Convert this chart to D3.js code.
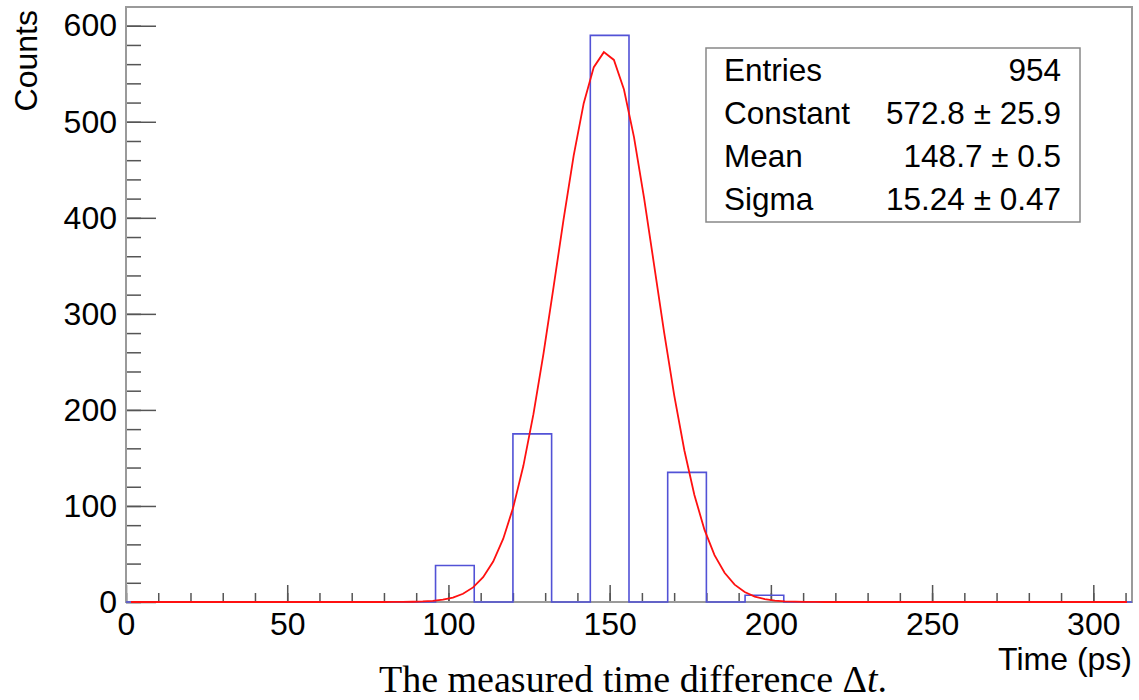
<!DOCTYPE html>
<html>
<head>
<meta charset="utf-8">
<script src="https://cdn.jsdelivr.net/npm/d3@7"></script>
<style>
    body { margin: 0; background: #fff; }
    svg { display: block; }
    .tick line { stroke: #555; stroke-width: 1.5; }
    .domain { display: none; }
    .tick text { font-family: "Liberation Sans", Arial, sans-serif; font-size: 32px; fill: #000; }
</style>
</head>
<body>
<div class="container"></div>
<script>
// histogram bins (ps) and counts
const binEdges = d3.range(0, 313, 12);
const binCounts = [0, 0, 0, 0, 0, 0, 0, 0, 38, 0, 175, 0, 590, 0, 135, 0, 7, 0, 0, 0, 0, 0, 0, 0, 0, 0];

// gaussian fit curve, 100 points over 0..312
const fitY = [
    0, 0, 0, 0, 0, 0, 0, 0, 0, 0, 0, 0, 0, 0, 0, 0, 0, 0, 0, 0, 0, 0, 0, 0, 0, 0,
    0.05, 0.11, 0.26, 0.57, 1.20, 2.41, 4.64, 8.57, 15.2, 25.8, 42.1, 65.9, 98.8, 141.8,
    195.6, 258.6, 327.8, 398.6, 464.7, 519.4, 556.9, 572.5, 564.4, 533.6, 483.7, 420.6,
    350.6, 280.3, 214.9, 158.0, 111.4, 75.3, 48.8, 30.4, 18.1, 10.35, 5.67, 2.98, 1.50,
    0.73, 0.34, 0.15, 0.06,
    0, 0, 0, 0, 0, 0, 0, 0, 0, 0, 0, 0, 0, 0, 0, 0, 0, 0, 0, 0, 0, 0, 0, 0, 0, 0, 0, 0, 0, 0, 0
];
const FIT_STEP = 3.12;

const xMajor = [0, 50, 100, 150, 200, 250, 300];
const xMinor = d3.range(0, 311, 10);
const yMajor = [0, 100, 200, 300, 400, 500, 600];
const yMinor = d3.range(0, 620, 20);

const statNames = ['Entries', 'Constant', 'Mean', 'Sigma'];
const statValues = ['954', '572.8 \u00b1 25.9', '148.7 \u00b1 0.5', '15.24 \u00b1 0.47'];

const xTitle = 'Time (ps)';
const yTitle = 'Counts';

let translate = (x, y) => (`translate(${x}, ${y})`);

const WIDTH = 1139;
const HEIGHT = 700;
const LEFT = 126;
const RIGHT = 1132;
const TOP = 7;
const BOTTOM = 602;

let xScale = d3.scaleLinear()
    .domain([0, 312])
    .range([LEFT, RIGHT]);

let yScale = d3.scaleLinear()
    .domain([0, 619.5])
    .range([BOTTOM, TOP]);

let svg = d3.select('.container').append('svg')
    .attr('width', WIDTH)
    .attr('height', HEIGHT);

// minor ticks
svg.append('g')
    .attr('transform', translate(0, BOTTOM))
    .call(d3.axisBottom(xScale).tickValues(xMinor).tickSize(-9).tickFormat(''));
svg.append('g')
    .attr('transform', translate(LEFT, 0))
    .call(d3.axisLeft(yScale).tickValues(yMinor).tickSize(-15).tickFormat(''));

// major ticks with labels
svg.append('g')
    .attr('transform', translate(0, BOTTOM))
    .call(d3.axisBottom(xScale).tickValues(xMajor).tickSize(-17).tickPadding(10));
svg.append('g')
    .attr('transform', translate(LEFT, 0))
    .call(d3.axisLeft(yScale).tickValues(yMajor).tickSize(-30).tickPadding(9));

// frame
svg.append('rect')
    .attr('x', LEFT)
    .attr('y', TOP)
    .attr('width', RIGHT - LEFT)
    .attr('height', BOTTOM - TOP)
    .attr('fill', 'none')
    .attr('stroke', '#9a9a9a')
    .attr('stroke-width', 2);

// histogram outline
let histPts = binCounts.flatMap((c, i) => [[binEdges[i], c], [binEdges[i + 1], c]]);
let hist = d3.line()
    .x(d => xScale(d[0]))
    .y(d => yScale(d[1]));

svg.append('path')
    .attr('d', hist(histPts))
    .attr('fill', 'none')
    .attr('stroke', '#5252d6')
    .attr('stroke-width', 1.6);

// fit
let fit = d3.line()
    .x((d, i) => xScale((i + 0.5) * FIT_STEP))
    .y(d => yScale(d));

svg.append('path')
    .attr('d', fit(fitY))
    .attr('fill', 'none')
    .attr('stroke', '#ff1010')
    .attr('stroke-width', 1.8);

// axis titles
svg.append('text')
    .attr('transform', translate(37, 10) + ' rotate(-90)')
    .attr('text-anchor', 'end')
    .style('font-family', '"Liberation Sans", Arial, sans-serif')
    .style('font-size', '32px')
    .text(yTitle);

svg.append('text')
    .attr('x', RIGHT)
    .attr('y', 670)
    .attr('text-anchor', 'end')
    .style('font-family', '"Liberation Sans", Arial, sans-serif')
    .style('font-size', '32px')
    .text(xTitle);

// stats box
let stats = svg.append('g');
stats.append('rect')
    .attr('x', 706)
    .attr('y', 48)
    .attr('width', 374)
    .attr('height', 174)
    .attr('fill', '#fff')
    .attr('stroke', '#888')
    .attr('stroke-width', 1.5);

stats.selectAll('.sname')
    .data(statNames)
    .enter().append('text')
    .attr('x', 724)
    .attr('y', (d, i) => 81 + i * 43)
    .style('font-family', '"Liberation Sans", Arial, sans-serif')
    .style('font-size', '31.5px')
    .text(d => d);

stats.selectAll('.sval')
    .data(statValues)
    .enter().append('text')
    .attr('x', 1061)
    .attr('y', (d, i) => 81 + i * 43)
    .attr('text-anchor', 'end')
    .style('font-family', '"Liberation Sans", Arial, sans-serif')
    .style('font-size', '31.5px')
    .text(d => d);

// caption
let cap = svg.append('text')
    .attr('x', 633)
    .attr('y', 692)
    .attr('text-anchor', 'middle')
    .style('font-family', '"Liberation Serif", "Times New Roman", serif')
    .style('font-size', '38px');
cap.append('tspan').text('The measured time difference \u0394');
cap.append('tspan').style('font-style', 'italic').text('t');
cap.append('tspan').text('.');
</script>
</body>
</html>
